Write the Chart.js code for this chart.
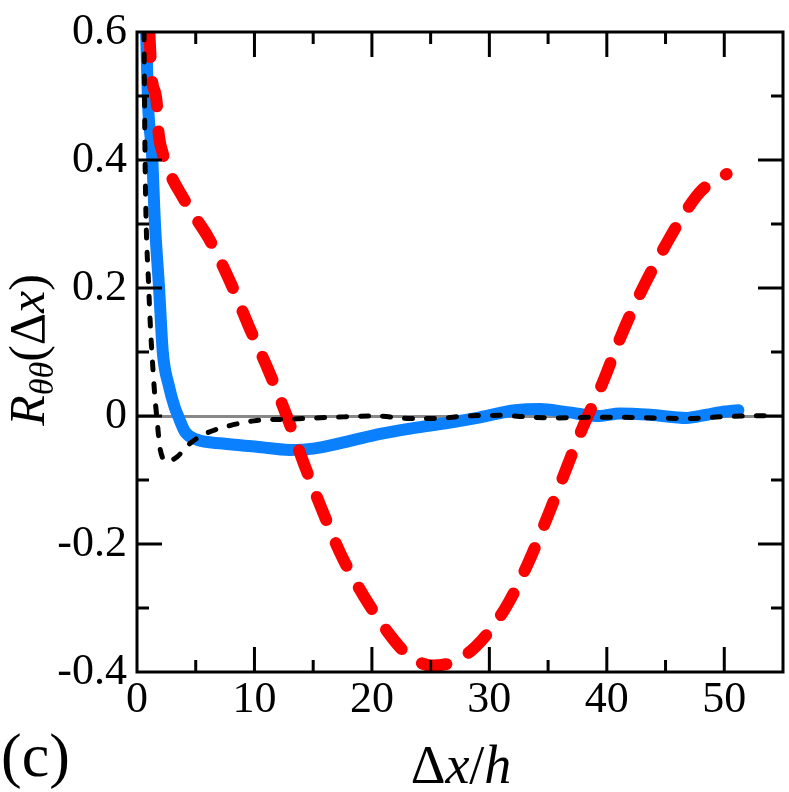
<!DOCTYPE html>
<html lang="en">
  <head>
    <meta charset="UTF-8" />
    <title>R_thetatheta correlation</title>
    <script src="https://cdn.jsdelivr.net/npm/chart.js@4"></script>
    <style>
      body { margin: 0; background: #fff; }
      .chart { width: 789px; height: 792px; position: relative; }
      .warm { position: absolute; left: -3000px; top: 0; font: 44px 'Liberation Serif'; }
    </style>
  </head>
  <body>
    <div class="warm">0.6 -0.4 (c) Δ <i>Rxhθθ</i></div>
    <div class="chart"><canvas id="myChart"></canvas></div>
    <script>
      // values
      const blueX = [0.78, 0.94, 1.28, 1.53, 1.87, 2.2, 2.7, 3.2, 3.5, 4.1, 5.1, 7.3, 10.2, 13.0, 15.0, 17.9, 20.7, 23.5, 26.4, 29.2, 32.2, 34.3, 36.6, 39.4, 41.1, 43.7, 46.8, 48.5, 49.7, 51.2];
      const blueY = [0.6, 0.488, 0.41, 0.30, 0.203, 0.099, 0.048, 0.014, 0.0, -0.025, -0.037, -0.043, -0.048, -0.053, -0.051, -0.040, -0.028, -0.019, -0.011, -0.002, 0.009, 0.011, 0.006, 0.0, 0.004, 0.002, -0.003, 0.002, 0.006, 0.009];

      const redX = [1.05, 1.25, 1.68, 1.8, 2.2, 2.8, 3.8, 4.9, 6.1, 7.9, 9.5, 11.2, 12.75, 14.2, 15.7, 17.3, 19.3, 21.7, 23.0, 25.1, 26.8, 28.8, 31.3, 33.2, 35.0, 37.9, 39.6, 41.1, 42.8, 44.7, 46.8, 48.1, 49.8, 50.2];
      const redY = [0.6, 0.53, 0.49, 0.45, 0.41, 0.379, 0.345, 0.312, 0.278, 0.211, 0.141, 0.071, 0.0, -0.074, -0.144, -0.214, -0.281, -0.346, -0.372, -0.39, -0.385, -0.361, -0.302, -0.234, -0.155, -0.02, 0.05, 0.12, 0.19, 0.257, 0.322, 0.353, 0.374, 0.378];

      const blackX = [0.6, 0.68, 1.0, 1.45, 1.75, 1.96, 2.6, 3.4, 4.5, 5.9, 7.9, 10.2, 12.8, 16.7, 20.4, 23.3, 25.2, 28.1, 30.9, 33.7, 35.4, 38.9, 41.1, 46.8, 50.0, 54.5];
      const blackY = [0.6, 0.41, 0.2, 0.048, -0.014, -0.051, -0.071, -0.064, -0.043, -0.027, -0.015, -0.007, -0.005, -0.002, 0.0, -0.004, -0.004, 0.0, 0.001, -0.002, -0.003, -0.002, -0.002, -0.004, -0.001, 0.001];

      const xTicks = [0, 10, 20, 30, 40, 50];
      const yTicks = [-0.4, -0.2, 0, 0.2, 0.4, 0.6];

      const toPoints = (xs, ys) => xs.map((x, i) => ({ x: x, y: ys[i] }));
      const serif = "'Liberation Serif'";

      function drawRuns(ctx, runs, cx, baseline) {
        let total = 0;
        runs.forEach(r => { ctx.font = r.font; total += ctx.measureText(r.t).width; });
        let x = cx - total / 2;
        ctx.textAlign = 'left';
        ctx.textBaseline = 'alphabetic';
        runs.forEach(r => {
          ctx.font = r.font;
          ctx.fillText(r.t, x, baseline + (r.dy || 0));
          x += ctx.measureText(r.t).width;
        });
      }

      // frame, inward ticks on all four sides, titles
      const framePlugin = {
        id: 'frame',
        afterDraw(chart) {
          const ctx = chart.ctx;
          const a = chart.chartArea;
          const xs = chart.scales.x;
          const ys = chart.scales.y;
          ctx.save();
          ctx.strokeStyle = '#000';
          ctx.lineWidth = 3;
          ctx.strokeRect(a.left, a.top, a.right - a.left, a.bottom - a.top);
          ctx.beginPath();
          for (let v = 5; v < 55; v += 5) {
            const len = v % 10 === 0 ? 25 : 12;
            const px = xs.getPixelForValue(v);
            ctx.moveTo(px, a.bottom); ctx.lineTo(px, a.bottom - len);
            ctx.moveTo(px, a.top); ctx.lineTo(px, a.top + len);
          }
          for (let i = 1; i < 10; i++) {
            const v = -0.4 + i * 0.1;
            const len = i % 2 === 0 ? 25 : 12;
            const py = ys.getPixelForValue(v);
            ctx.moveTo(a.left, py); ctx.lineTo(a.left + len, py);
            ctx.moveTo(a.right, py); ctx.lineTo(a.right - len, py);
          }
          ctx.stroke();

          ctx.fillStyle = '#000';
          drawRuns(ctx, [
            { t: 'Δ', font: '54px ' + serif },
            { t: 'x', font: 'italic 54px ' + serif },
            { t: '/', font: '54px ' + serif },
            { t: 'h', font: 'italic 54px ' + serif }
          ], 461, 783);

          ctx.font = '62px ' + serif;
          ctx.textAlign = 'left';
          ctx.fillText('(c)', 1, 776);

          ctx.translate(44, 350);
          ctx.rotate(-Math.PI / 2);
          drawRuns(ctx, [
            { t: 'R', font: 'italic 50px ' + serif },
            { t: 'θθ', font: 'italic 34px ' + serif, dy: 9 },
            { t: '(Δ', font: '50px ' + serif },
            { t: 'x', font: 'italic 50px ' + serif },
            { t: ')', font: '50px ' + serif }
          ], 0, 0);
          ctx.restore();
        }
      };

      function setup() {
        const ctx = document.getElementById('myChart').getContext('2d');
        const myChart = new Chart(ctx, {
          type: 'line',
          data: {
            datasets: [
              {
                label: 'black',
                data: toPoints(blackX, blackY),
                borderColor: '#000000',
                borderWidth: 5,
                borderDash: [8, 14],
                borderCapStyle: 'round',
                order: 1
              },
              {
                label: 'red',
                data: toPoints(redX, redY),
                borderColor: '#ff0000',
                borderWidth: 12,
                borderDash: [25, 25],
                borderCapStyle: 'round',
                order: 2
              },
              {
                label: 'blue',
                data: toPoints(blueX, blueY),
                borderColor: '#0a80ff',
                borderWidth: 12,
                borderCapStyle: 'round',
                borderJoinStyle: 'round',
                order: 3
              }
            ]
          },
          options: {
            responsive: true,
            maintainAspectRatio: false,
            animation: false,
            events: [],
            layout: { padding: { top: 28, right: 6, bottom: 0, left: 0 } },
            elements: {
              point: { radius: 0 },
              line: { cubicInterpolationMode: 'monotone', fill: false }
            },
            datasets: { line: { clip: { left: 0, top: 0, right: 0, bottom: 8 } } },
            plugins: { legend: { display: false }, tooltip: { enabled: false } },
            scales: {
              x: {
                type: 'linear',
                min: 0,
                max: 55,
                afterBuildTicks: scale => { scale.ticks = xTicks.map(v => ({ value: v })); },
                afterFit: scale => { scale.height = 120; },
                grid: { display: false, drawTicks: false },
                border: { display: false },
                ticks: {
                  color: '#000',
                  padding: 6,
                  maxRotation: 0,
                  font: { family: serif, size: 44, lineHeight: 1 },
                  callback: v => String(v)
                }
              },
              y: {
                type: 'linear',
                min: -0.4,
                max: 0.6,
                afterBuildTicks: scale => { scale.ticks = yTicks.map(v => ({ value: v })); },
                afterFit: scale => { scale.width = 137; },
                grid: {
                  drawTicks: false,
                  lineWidth: 3,
                  color: c => (c.tick && Math.abs(c.tick.value) < 1e-9 ? '#888888' : 'rgba(0,0,0,0)')
                },
                border: { display: false },
                ticks: {
                  color: '#000',
                  padding: 10,
                  font: { family: serif, size: 44, lineHeight: 1 },
                  callback: v => (Math.abs(v) < 1e-9 ? '0' : v.toFixed(1))
                }
              }
            }
          },
          plugins: [framePlugin]
        });
      }

      document.fonts.ready.then(setup);
    </script>
  </body>
</html>
